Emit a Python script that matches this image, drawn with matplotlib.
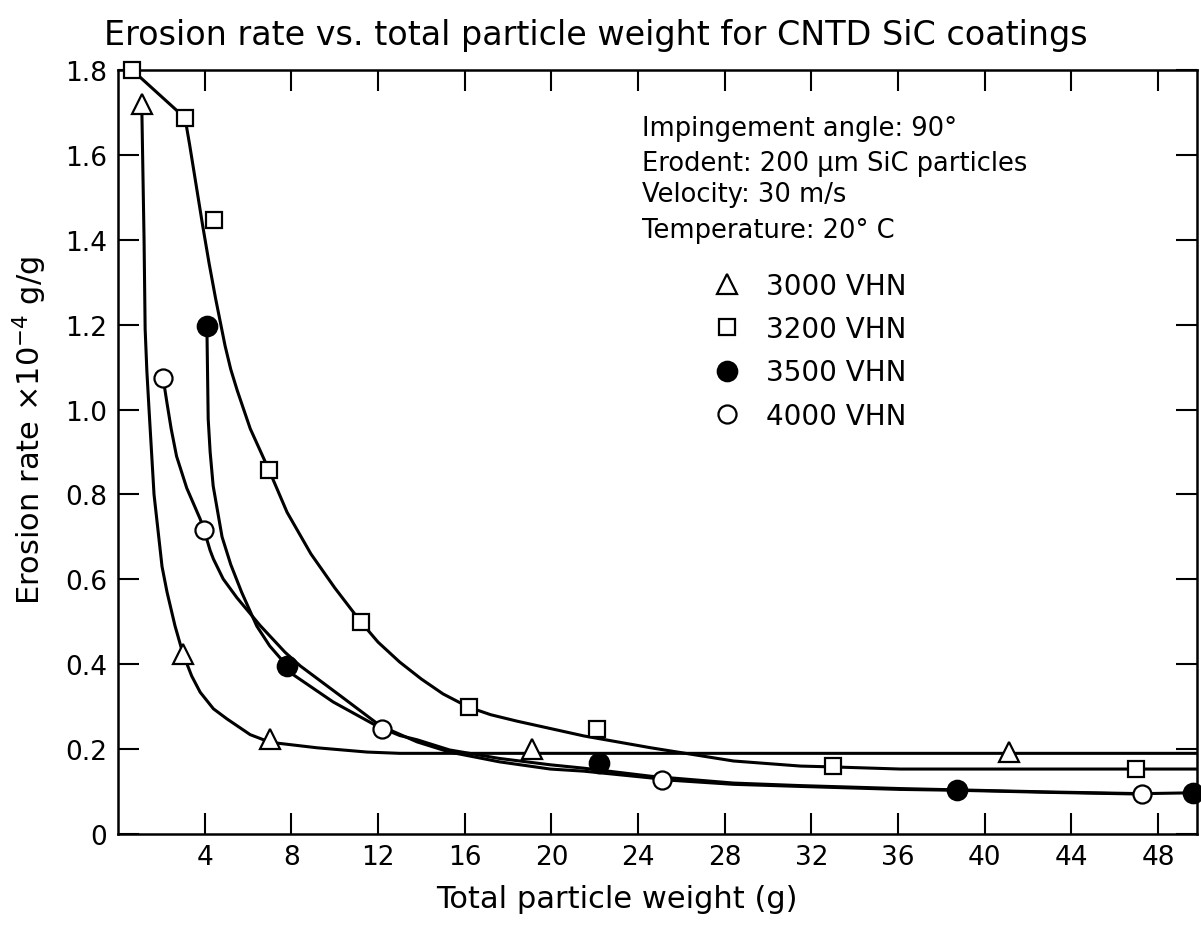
import matplotlib.pyplot as plt

# measured points (x = total particle weight in g, y = erosion rate x1e-4 g/g)
x_3000 = [1.1, 3.0, 7.0, 19.1, 41.1]
y_3000 = [1.72, 0.425, 0.224, 0.20, 0.193]
x_3200 = [0.65, 3.1, 4.43, 6.97, 11.2, 16.2, 22.1, 33.0, 47.0]
y_3200 = [1.80, 1.687, 1.446, 0.857, 0.50, 0.30, 0.247, 0.16, 0.153]
x_3500 = [4.1, 7.8, 22.2, 38.7, 49.6]
y_3500 = [1.197, 0.396, 0.167, 0.104, 0.097]
x_4000 = [2.08, 3.97, 12.2, 25.1, 47.25]
y_4000 = [1.074, 0.716, 0.247, 0.127, 0.094]

# hand-drawn fit curves
cx_3000 = [1.1, 1.2, 1.25, 1.33, 1.43, 1.66, 2.03, 2.26, 2.63, 3.0, 3.4, 3.79, 4.4, 5.03,
           6.1, 7.02, 9.2, 11.5, 13.0, 20.0, 30.0, 41.0, 49.8]
cy_3000 = [1.70, 1.40, 1.19, 1.09, 1.0, 0.80, 0.63, 0.57, 0.49, 0.424, 0.372, 0.334,
           0.295, 0.271, 0.234, 0.216, 0.203, 0.193, 0.19, 0.19, 0.19, 0.19, 0.19]
cx_3200 = [0.65, 3.09, 3.3, 3.6, 3.9, 4.2, 4.5, 4.94, 5.2, 5.5, 6.1, 6.97, 7.8,
           8.9, 10.0, 11.2, 12.0, 13.0, 14.0, 15.0, 16.17, 17.2, 18.4, 21.5, 24.6,
           28.4, 31.5, 33.0, 36.1, 42.0, 49.8]
cy_3200 = [1.80, 1.687, 1.625, 1.53, 1.435, 1.345, 1.262, 1.15, 1.095, 1.045, 0.955,
           0.857, 0.758, 0.66, 0.58, 0.50, 0.452, 0.405, 0.365, 0.33, 0.299, 0.281,
           0.266, 0.231, 0.203, 0.172, 0.160, 0.158, 0.153, 0.153, 0.153]
cx_3500 = [4.1, 4.16, 4.25, 4.39, 4.8, 5.2, 5.7, 6.4, 7.0, 7.8, 7.95, 9.93, 11.96, 13.0,
           13.8, 15.3, 17.6, 19.95, 21.5, 24.6, 28.4, 31.5, 36.1, 38.7, 43.0, 47.25, 49.6]
cy_3500 = [1.197, 0.978, 0.90, 0.82, 0.70, 0.635, 0.57, 0.49, 0.443, 0.396, 0.38, 0.311,
           0.254, 0.232, 0.222, 0.198, 0.178, 0.163, 0.155, 0.136, 0.12, 0.114, 0.107,
           0.104, 0.099, 0.095, 0.097]
cx_4000 = [2.08, 2.25, 2.45, 2.7, 3.17, 3.79, 3.97, 4.25, 4.4, 4.85, 5.48, 6.56, 7.71,
           8.41, 10.25, 12.1, 13.8, 15.3, 17.6, 19.95, 21.5, 24.6, 25.1, 28.4, 31.5,
           36.1, 38.7, 43.0, 47.25]
cy_4000 = [1.074, 1.018, 0.955, 0.89, 0.815, 0.742, 0.716, 0.668, 0.648, 0.601, 0.557,
           0.491, 0.428, 0.396, 0.326, 0.255, 0.217, 0.193, 0.17, 0.153, 0.148, 0.132,
           0.128, 0.117, 0.112, 0.105, 0.103, 0.098, 0.094]

labels = ['3000 VHN', '3200 VHN', '3500 VHN', '4000 VHN']
x_ticks = [4, 8, 12, 16, 20, 24, 28, 32, 36, 40, 44, 48]
y_ticks = [0, 0.2, 0.4, 0.6, 0.8, 1.0, 1.2, 1.4, 1.6, 1.8]
y_ticklabels = ['0', '0.2', '0.4', '0.6', '0.8', '1.0', '1.2', '1.4', '1.6', '1.8']

plt.rcParams['font.family'] = ['DejaVu Sans']

fig = plt.figure(figsize=(12.01, 9.29), dpi=100, facecolor='white')
ax = fig.add_axes([0.0983, 0.1012, 0.8984, 0.8224])

lw = 2.2
for cx, cy in [(cx_3000, cy_3000), (cx_3200, cy_3200), (cx_3500, cy_3500), (cx_4000, cy_4000)]:
    ax.plot(cx, cy, color='black', lw=lw, zorder=2, solid_joinstyle='round')

mk = dict(ls='none', markeredgecolor='black', markeredgewidth=1.6, zorder=3, clip_on=False)
h1, = ax.plot(x_3000, y_3000, marker='^', ms=15, markerfacecolor='white', **mk)
h2, = ax.plot(x_3200, y_3200, marker='s', ms=11, markerfacecolor='white', **mk)
h3, = ax.plot(x_3500, y_3500, marker='o', ms=14, markerfacecolor='black', **mk)
h4, = ax.plot(x_4000, y_4000, marker='o', ms=13, markerfacecolor='white', **mk)

ax.set_xlim(0, 49.8)
ax.set_ylim(0, 1.8)
ax.set_xticks(x_ticks)
ax.set_yticks(y_ticks)
ax.set_yticklabels(y_ticklabels)
ax.tick_params(direction='in', length=15, width=1.5, labelsize=19,
               top=True, right=True, colors='black')
ax.tick_params(axis='x', pad=7)
ax.tick_params(axis='y', pad=8)
for s in ax.spines.values():
    s.set_linewidth(1.8)

ax.set_xlabel('Total particle weight (g)', fontsize=22)
ax.xaxis.set_label_coords(0.462, -0.066)
ax.set_ylabel(r'Erosion rate $\times$10$^{-4}$ g/g', fontsize=22)
ax.yaxis.set_label_coords(-0.064, 0.53)
fig.text(0.496, 0.962, 'Erosion rate vs. total particle weight for CNTD SiC coatings',
         ha='center', va='center', fontsize=24)

notes = ['Impingement angle: 90°', 'Erodent: 200 μm SiC particles',
         'Velocity: 30 m/s', 'Temperature: 20° C']
note_y = [0.915, 0.869, 0.8285, 0.781]
for t, yy in zip(notes, note_y):
    ax.text(0.4856, yy, t, transform=ax.transAxes, fontsize=18.5, va='baseline', ha='left')

ax.legend([h1, h2, h3, h4], labels, loc='upper left', bbox_to_anchor=(0.5514, 0.736),
          frameon=False, fontsize=20, handlelength=1.0, handletextpad=0.92,
          labelspacing=0.55, borderpad=0, borderaxespad=0, numpoints=1)

fig.savefig('out.png', dpi=100)
